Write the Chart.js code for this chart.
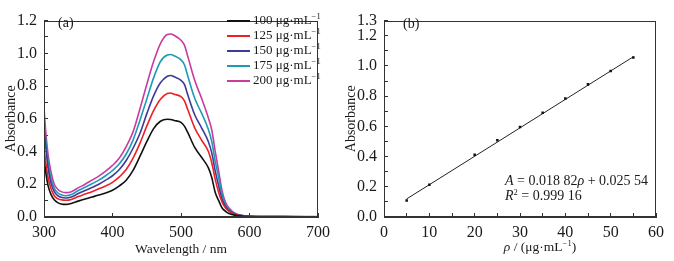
<!DOCTYPE html>
<html lang="en">
<head>
<meta charset="UTF-8">
<title>Absorbance spectra and calibration line</title>
<script src="https://cdn.jsdelivr.net/npm/chart.js"></script>
<style>
  body { margin: 0; width: 674px; height: 261px; position: relative; background: #fff;
         font-family: 'Liberation Serif', serif; color: #1a1a1a; overflow: hidden; }
  canvas { position: absolute; top: 0; }
  #spectra { left: 0; }
  #calib { left: 340px; }
  .note { position: absolute; font-size: 14px; line-height: 14px; white-space: nowrap; }
  .sup { font-size: 8.5px; vertical-align: 5px; line-height: 0; }
  #legend { position: absolute; left: 227px; top: 12px; font-size: 13px; }
  .item { height: 15.1px; line-height: 15.1px; white-space: nowrap; }
  .swatch { display: inline-block; width: 23px; height: 2px; margin-right: 3px; vertical-align: middle; }
</style>
</head>
<body>

<canvas id="spectra" width="340" height="261"></canvas>
<canvas id="calib" width="334" height="261"></canvas>
<div id="legend"></div>
<div class="note" style="left:58px; top:16px;">(a)</div>
<div class="note" style="left:403px; top:17px;">(b)</div>
<div class="note" style="left:505px; top:174px;"><i>A</i> = 0.018 82<i>ρ</i> + 0.025 54</div>
<div class="note" style="left:505px; top:189px;"><i>R</i><span class="sup">2</span> = 0.999 16</div>
<div class="note" style="left:540px; top:240px; font-size:13.5px; transform:translateX(-50%);"><i>ρ</i> / (μg·mL<span class="sup">−1</span>)</div>

<script>
    // (a) 흡광 스펙트럼
    const wavelength = [300, 303, 306, 310, 315, 320, 325, 332, 340, 350, 360, 370, 380, 390, 400,
        410, 420, 430, 440, 450, 460, 470, 480, 485, 490, 500, 505, 510, 520, 530, 540, 545, 550,
        555, 560, 565, 570, 580, 590, 600, 650, 700];
    const abs100 = [0.35, 0.26, 0.19, 0.14, 0.105, 0.088, 0.08, 0.077, 0.083, 0.097, 0.11, 0.122, 0.134, 0.147, 0.163,
        0.19, 0.225, 0.285, 0.37, 0.46, 0.54, 0.585, 0.597, 0.596, 0.59, 0.578, 0.555, 0.515, 0.425, 0.365, 0.3, 0.24, 0.15,
        0.1, 0.055, 0.035, 0.022, 0.01, 0.005, 0.003, 0.001, 0.001];
    const abs125 = [0.42, 0.32, 0.24, 0.175, 0.13, 0.112, 0.105, 0.102, 0.107, 0.125, 0.14, 0.155, 0.172, 0.19, 0.212,
        0.245, 0.29, 0.36, 0.45, 0.555, 0.65, 0.72, 0.755, 0.758, 0.75, 0.735, 0.71, 0.655, 0.545, 0.47, 0.4, 0.33, 0.23,
        0.15, 0.09, 0.055, 0.035, 0.014, 0.007, 0.004, 0.002, 0.001];
    const abs150 = [0.55, 0.41, 0.3, 0.21, 0.155, 0.13, 0.12, 0.116, 0.122, 0.143, 0.162, 0.18, 0.2, 0.225, 0.252,
        0.29, 0.345, 0.42, 0.51, 0.63, 0.74, 0.82, 0.86, 0.865, 0.857, 0.835, 0.81, 0.745, 0.625, 0.545, 0.46, 0.39, 0.28,
        0.19, 0.11, 0.065, 0.04, 0.016, 0.008, 0.005, 0.002, 0.001];
    const abs175 = [0.6, 0.45, 0.34, 0.24, 0.175, 0.148, 0.136, 0.13, 0.137, 0.162, 0.182, 0.203, 0.225, 0.252, 0.284,
        0.325, 0.385, 0.47, 0.59, 0.72, 0.85, 0.95, 0.99, 0.993, 0.985, 0.96, 0.93, 0.86, 0.725, 0.635, 0.535, 0.46, 0.34,
        0.24, 0.14, 0.078, 0.047, 0.018, 0.009, 0.005, 0.002, 0.001];
    const abs200 = [0.66, 0.5, 0.38, 0.28, 0.2, 0.17, 0.155, 0.149, 0.155, 0.178, 0.2, 0.225, 0.25, 0.28, 0.315,
        0.36, 0.43, 0.52, 0.66, 0.81, 0.95, 1.06, 1.115, 1.118, 1.11, 1.08, 1.05, 0.98, 0.835, 0.725, 0.605, 0.53, 0.4,
        0.28, 0.16, 0.09, 0.055, 0.02, 0.009, 0.005, 0.003, 0.002];
    const seriesNames = ['100', '125', '150', '175', '200'];
    const seriesColors = ['#111111', '#ee1f26', '#3c3c98', '#1f9ab4', '#c83ca0'];

    // (b) 검량선
    const conc = [5, 10, 20, 25, 30, 35, 40, 45, 50, 55];
    const absorb = [0.109, 0.213, 0.412, 0.508, 0.596, 0.690, 0.784, 0.878, 0.966, 1.056];
    const slope = 0.01882;
    const intercept = 0.02554;

    const serif = 'Liberation Serif';
    const ink = '#1a1a1a';

    // 플롯 영역 전체 테두리
    const frame = {
        id: 'frame',
        afterDraw(chart) {
            const { ctx, chartArea: a } = chart;
            ctx.save();
            ctx.strokeStyle = '#333';
            ctx.lineWidth = 1;
            ctx.strokeRect(Math.round(a.left) + 0.5, Math.round(a.top) + 0.5,
                Math.round(a.right - a.left) - 1, Math.round(a.bottom - a.top) - 1);
            ctx.restore();
        }
    };

    function axisGrid() {
        return { drawOnChartArea: false, tickLength: -4, tickColor: '#333' };
    }

    const series = [abs100, abs125, abs150, abs175, abs200];

    new Chart(document.getElementById('spectra'), {
        type: 'line',
        data: {
            datasets: series.map((vals, i) => ({
                label: seriesNames[i] + ' μg·mL⁻¹',
                data: wavelength.map((w, j) => ({ x: w, y: vals[j] })),
                borderColor: seriesColors[i],
                borderWidth: 1.6,
                pointRadius: 0,
                cubicInterpolationMode: 'monotone',
                fill: false
            }))
        },
        options: {
            responsive: false,
            animation: false,
            layout: { padding: { top: 9, right: 17, left: 0, bottom: 0 } },
            plugins: { legend: { display: false }, tooltip: { enabled: false } },
            scales: {
                x: {
                    type: 'linear', min: 300, max: 700,
                    ticks: { stepSize: 100, padding: 10, maxRotation: 0, autoSkip: false, color: ink,
                        font: { family: serif, size: 16 } },
                    grid: axisGrid(),
                    border: { color: '#333' },
                    title: { display: true, text: 'Wavelength / nm', color: ink,
                        font: { family: serif, size: 13.5 }, padding: { top: 0, bottom: 3 } },
                    afterFit: s => { s.height = 44; }
                },
                y: {
                    min: 0, max: 1.2,
                    ticks: { stepSize: 0.1, padding: 11, autoSkip: false, color: ink,
                        font: { family: serif, size: 16 },
                        callback: v => Math.round(v * 10) % 2 === 0 ? v.toFixed(1) : '' },
                    grid: axisGrid(),
                    border: { color: '#333' },
                    title: { display: true, text: 'Absorbance', color: ink,
                        font: { family: serif, size: 14 }, padding: { top: 3, bottom: 0 } },
                    afterFit: s => { s.width = 44; }
                }
            }
        },
        plugins: [frame]
    });

    // 범례
    const legend = document.getElementById('legend');
    seriesNames.forEach((name, i) => {
        const row = document.createElement('div');
        row.className = 'item';
        row.innerHTML = '<span class="swatch" style="background:' + seriesColors[i] + '"></span>' +
            '<span>' + name + ' μg·mL<span class="sup">−1</span></span>';
        legend.appendChild(row);
    });

    new Chart(document.getElementById('calib'), {
        type: 'scatter',
        data: {
            datasets: [{
                label: 'data',
                data: conc.map((c, i) => ({ x: c, y: absorb[i] })),
                pointStyle: 'rect',
                pointRadius: 1.8,
                backgroundColor: '#111',
                borderColor: '#111',
                borderWidth: 0
            }, {
                label: 'fit',
                type: 'line',
                data: [conc[0], conc[conc.length - 1]].map(c => ({ x: c, y: slope * c + intercept })),
                borderColor: '#222',
                borderWidth: 1,
                pointRadius: 0,
                fill: false
            }]
        },
        options: {
            responsive: false,
            animation: false,
            layout: { padding: { top: 9, right: 10, left: 0, bottom: 0 } },
            plugins: { legend: { display: false }, tooltip: { enabled: false } },
            scales: {
                x: {
                    type: 'linear', min: 0, max: 60,
                    ticks: { stepSize: 5, padding: 10, maxRotation: 0, autoSkip: false, color: ink,
                        font: { family: serif, size: 16 },
                        callback: v => v % 10 === 0 ? String(v) : '' },
                    grid: axisGrid(),
                    border: { color: '#333' },
                    afterFit: s => { s.height = 44; }
                },
                y: {
                    min: 0, max: 1.3,
                    ticks: { stepSize: 0.1, padding: 11, autoSkip: false, color: ink,
                        font: { family: serif, size: 16 },
                        callback: v => {
                            const t = Math.round(v * 10);
                            return (t % 2 === 0 || t === 13) ? v.toFixed(1) : '';
                        } },
                    grid: axisGrid(),
                    border: { color: '#333' },
                    title: { display: true, text: 'Absorbance', color: ink,
                        font: { family: serif, size: 14 }, padding: { top: 3, bottom: 0 } },
                    afterFit: s => { s.width = 44; }
                }
            }
        },
        plugins: [frame]
    });
</script>

</body>
</html>
